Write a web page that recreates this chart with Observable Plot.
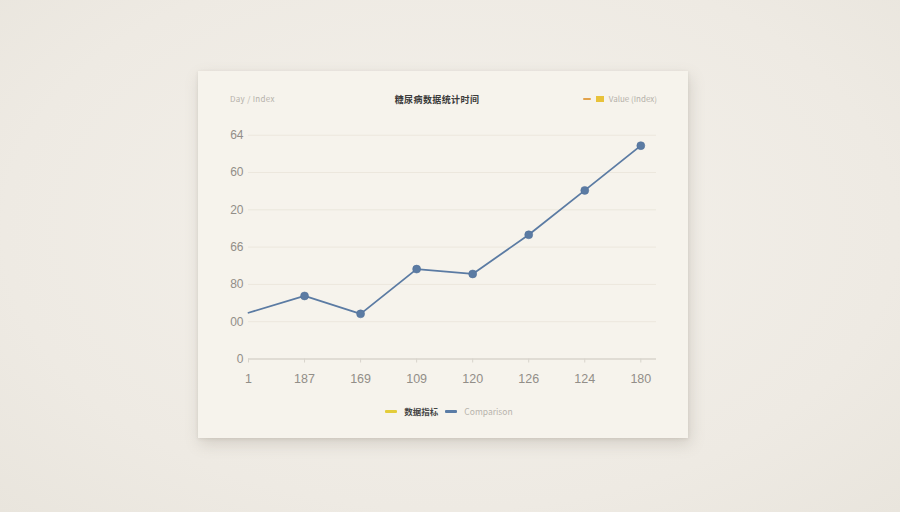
<!DOCTYPE html>
<html>
<head>
<meta charset="utf-8">
<script src="https://cdn.jsdelivr.net/npm/d3@7"></script>
<script src="https://cdn.jsdelivr.net/npm/@observablehq/plot@0.6"></script>
<style>
  html, body { margin: 0; padding: 0; }
  body {
    width: 900px; height: 512px; overflow: hidden; position: relative;
    background: radial-gradient(ellipse at 50% 45%, #f4f1eb 0%, #eeeae3 70%, #e9e5dd 100%);
    font-family: "Noto Sans CJK SC", "Noto Sans", sans-serif;
  }
  #card {
    position: absolute; left: 198px; top: 71px; width: 490px; height: 367px;
    background: #f6f3ec;
    box-shadow: 2px 6px 14px rgba(120,110,95,0.22), 0 1px 3px rgba(120,110,95,0.15);
  }
  #plot { position: absolute; left: 0; top: 0; }
  .t { position: absolute; white-space: nowrap; line-height: 1; }
  #title { left: -6px; width: 490px; top: 24px; text-align: center; font-size: 9px; color: #3a3a3a; font-weight: bold; letter-spacing: 0.4px; }
  #ylab { left: 32px; top: 24px; font-size: 8px; color: #b5b1aa; letter-spacing: 0.3px; }
  #toplegend { right: 31px; top: 24px; font-size: 8px; color: #b5b1aa; display: flex; align-items: center; gap: 5px; }
  #botlegend { left: 6px; width: 490px; top: 336px; display: flex; justify-content: center; align-items: center; gap: 7px; font-size: 8.5px; }
  .dash { display: inline-block; width: 12px; height: 2.5px; border-radius: 1px; }
  .sq { display: inline-block; width: 8px; height: 6px; }
</style>
</head>
<body>
<div id="card">
  <div id="plot"></div>
  <div class="t" id="ylab">Day / Index</div>
  <div class="t" id="title">糖尿病数据统计时间</div>
  <div class="t" id="toplegend"><span class="dash" style="background:#e2a24a;width:8px"></span><span class="sq" style="background:#e8c23a"></span><span>Value (Index)</span></div>
  <div class="t" id="botlegend">
    <span class="dash" style="background:#e3cc3a"></span><span style="color:#444;font-weight:bold">数据指标</span>
    <span class="dash" style="background:#5a7ca6"></span><span style="color:#b8b4ad">Comparison</span>
  </div>
</div>
<script>
// Data
const xLabels = ["1", "187", "169", "109", "120", "126", "124", "180"];
const values  = [1.24, 1.69, 1.21, 2.41, 2.28, 3.33, 4.52, 5.72];
const yTickLabels = ["0", "00", "80", "66", "20", "60", "64"];

const data = values.map((v, i) => ({i, v}));
const yTicks = yTickLabels.map((_, k) => k);
const xTicks = xLabels.map((_, k) => k);

const chart = Plot.plot({
  width: 490,
  height: 330,
  marginLeft: 50,
  marginRight: 32,
  marginTop: 63.7,
  marginBottom: 42.5,
  style: { background: "transparent", fontFamily: "'Liberation Sans', 'DejaVu Sans', sans-serif" },
  x: { domain: [0, 7.28], label: null },
  y: { domain: [0, 6], label: null },
  marks: [
    Plot.ruleY(yTicks.filter(d => d > 0), { x1: 0, x2: 7.28, stroke: "#ece7dd", strokeWidth: 1 }),
    Plot.ruleY([0], { x1: 0, x2: 7.28, stroke: "#d8d4cc", strokeWidth: 1.5 }),
    Plot.axisX({ ticks: xTicks, tickFormat: (d) => xLabels[d], label: null, tickSize: 4, tickPadding: 11, stroke: "#d8d4cc", fill: "#928e88", fontSize: 12.5 }),
    Plot.axisY({ ticks: yTicks, tickFormat: (d) => yTickLabels[d], label: null, tickSize: 0, tickPadding: 5, fill: "#928e88", fontSize: 12 }),
    Plot.line(data, { x: "i", y: "v", stroke: "#5b7ba3", strokeWidth: 1.8 }),
    Plot.dot(data.filter(d => d.i > 0), { x: "i", y: "v", r: 4, fill: "#5b7ba3", stroke: "#4f6f98", strokeWidth: 0.5 })
  ]
});
document.getElementById("plot").appendChild(chart);
</script>
</body>
</html>
